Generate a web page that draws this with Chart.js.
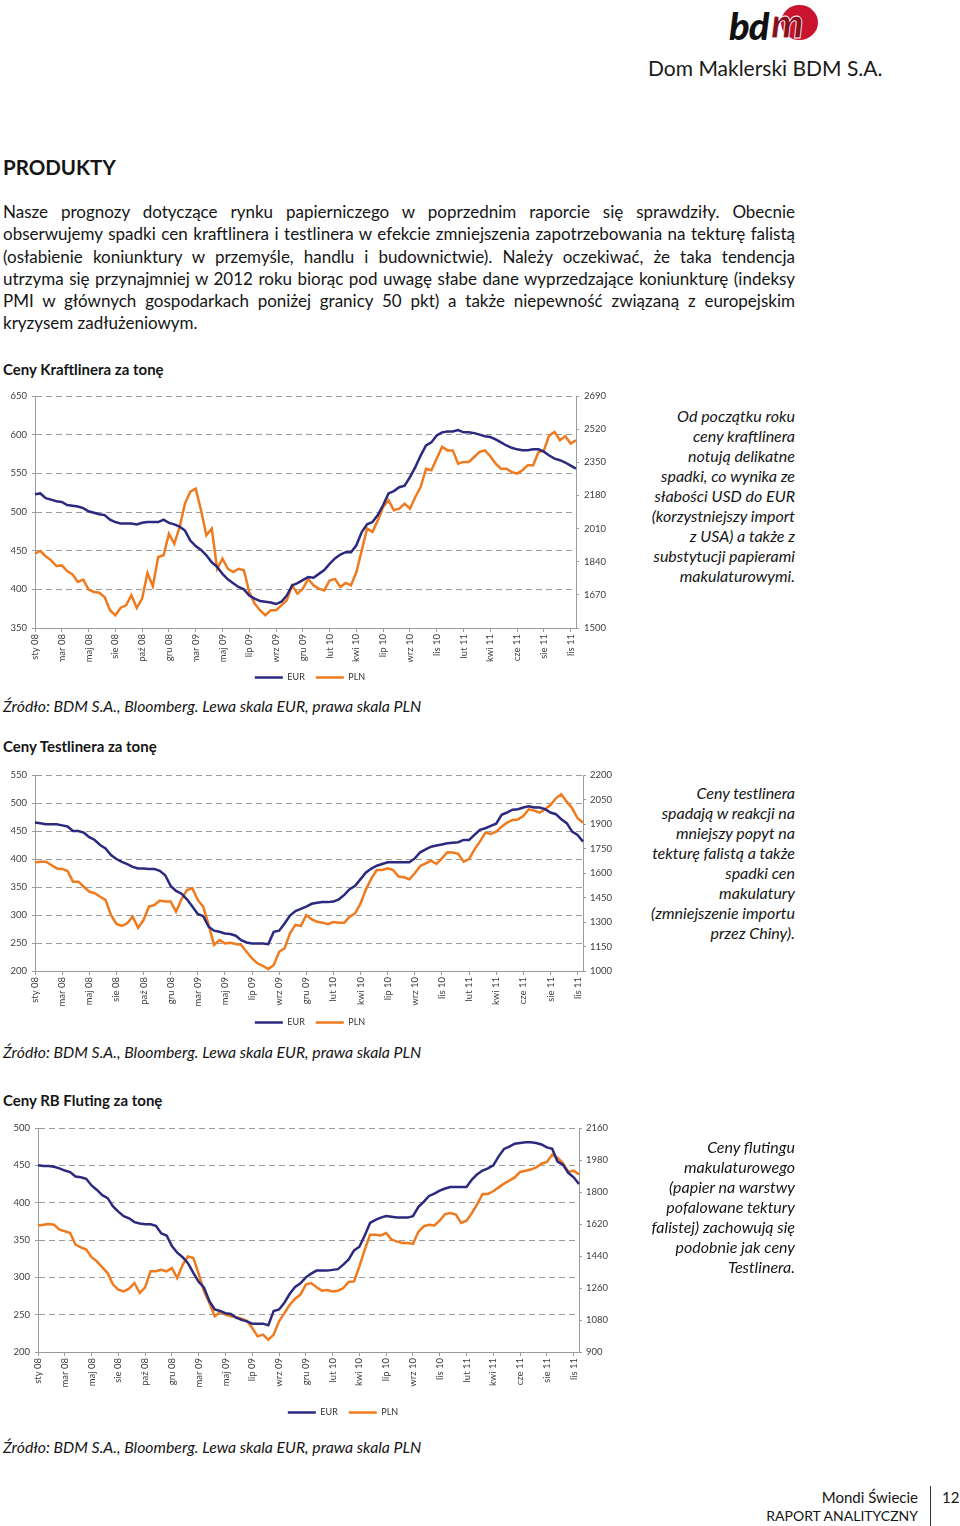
<!DOCTYPE html>
<html lang="pl">
<head>
<meta charset="utf-8">
<title>Mondi Świecie – produkty</title>
<script src="https://cdn.jsdelivr.net/npm/chart.js@4.4.1/dist/chart.umd.min.js"></script>
<style>
  html, body { margin: 0; padding: 0; background: #fff; }
  body { position: relative; width: 960px; height: 1526px; overflow: hidden; font-family: Lato, "Open Sans", sans-serif; color: #151515; }
  .abs { position: absolute; }
  .para { left: 3px; top: 201px; width: 792px; font-size: 17px; line-height: 22.3px; }
  .para div { text-align: justify; text-align-last: justify; }
  .para div.last { text-align-last: left; }
  .title { left: 3px; font-size: 15px; font-weight: bold; line-height: 20px; }
  .source { left: 3px; font-size: 15.8px; font-style: italic; line-height: 20px; }
  .side { right: 165px; text-align: right; font-size: 16px; font-style: italic; line-height: 20px; white-space: nowrap; }
  canvas { position: absolute; left: 0; }
</style>
</head>
<body>

<div class="abs" style="left:781px;top:5px;width:37px;height:35px;border-radius:50%;background:#c8142f"></div>
<div class="abs" style="left:729px;top:2px;font-size:38px;font-weight:900;font-style:italic;letter-spacing:-1px;line-height:46px;color:#111">bd</div>
<div class="abs" style="left:771px;top:0px;font-size:41px;font-weight:900;font-style:italic;line-height:46px;color:#86101d;-webkit-text-stroke:0.8px #fff">m</div>
<div class="abs" style="left:648px;top:56px;font-size:21px;line-height:24px;color:#1a1a1a">Dom Maklerski BDM S.A.</div>

<div class="abs" style="left:3px;top:154px;font-size:20.5px;font-weight:bold;line-height:26px">PRODUKTY</div>

<div class="abs para">
  <div>Nasze prognozy dotyczące rynku papierniczego w poprzednim raporcie się sprawdziły. Obecnie</div>
  <div>obserwujemy spadki cen kraftlinera i testlinera w efekcie zmniejszenia zapotrzebowania na tekturę falistą</div>
  <div>(osłabienie koniunktury w przemyśle, handlu i budownictwie). Należy oczekiwać, że taka tendencja</div>
  <div>utrzyma się przynajmniej w 2012 roku biorąc pod uwagę słabe dane wyprzedzające koniunkturę (indeksy</div>
  <div>PMI w głównych gospodarkach poniżej granicy 50 pkt) a także niepewność związaną z europejskim</div>
  <div class="last">kryzysem zadłużeniowym.</div>
</div>

<div class="abs title" style="top:359px">Ceny Kraftlinera za tonę</div>
<canvas id="kraftChart" width="620" height="308" style="top:384px"></canvas>
<div class="abs side" style="top:406px">Od początku roku<br>ceny kraftlinera<br>notują delikatne<br>spadki, co wynika ze<br>słabości USD do EUR<br>(korzystniejszy import<br>z USA) a także z<br>substytucji papierami<br>makulaturowymi.</div>
<div class="abs source" style="top:696px">Źródło: BDM S.A., Bloomberg. Lewa skala EUR, prawa skala PLN</div>

<div class="abs title" style="top:736px">Ceny Testlinera za tonę</div>
<canvas id="testChart" width="620" height="274" style="top:763px"></canvas>
<div class="abs side" style="top:783px">Ceny testlinera<br>spadają w reakcji na<br>mniejszy popyt na<br>tekturę falistą a także<br>spadki cen<br>makulatury<br>(zmniejszenie importu<br>przez Chiny).</div>
<div class="abs source" style="top:1042px">Źródło: BDM S.A., Bloomberg. Lewa skala EUR, prawa skala PLN</div>

<div class="abs title" style="top:1090px">Ceny RB Fluting za tonę</div>
<canvas id="flutChart" width="686" height="311" style="top:1116px"></canvas>
<div class="abs side" style="top:1137px">Ceny flutingu<br>makulaturowego<br>(papier na warstwy<br>pofalowane tektury<br>falistej) zachowują się<br>podobnie jak ceny<br>Testlinera.</div>
<div class="abs source" style="top:1437px">Źródło: BDM S.A., Bloomberg. Lewa skala EUR, prawa skala PLN</div>

<div class="abs" style="right:42px;top:1487px;font-size:15px;line-height:20px;text-align:right">Mondi Świecie</div>
<div class="abs" style="right:42px;top:1506px;font-size:14px;line-height:20px;text-align:right">RAPORT ANALITYCZNY</div>
<div class="abs" style="left:930px;top:1486px;width:1px;height:40px;background:#333"></div>
<div class="abs" style="left:942px;top:1487px;font-size:15px;line-height:20px">12</div>

<script>
// x axis: one point every ~2 weeks, a label every 5th point
const tickLabels = ['sty 08', 'mar 08', 'maj 08', 'sie 08', 'paź 08', 'gru 08', 'mar 09', 'maj 09', 'lip 09', 'wrz 09',
  'gru 09', 'lut 10', 'kwi 10', 'lip 10', 'wrz 10', 'lis 10', 'lut 11', 'kwi 11', 'cze 11', 'sie 11', 'lis 11'];

// Kraftliner, EUR / PLN per tonne
const kraftEur = [
  523, 524, 518, 516, 514, 513, 509, 508, 507, 505,
  501, 499, 497, 496, 490, 487, 485, 485, 485, 484,
  486, 487, 487, 487, 490, 486, 484, 481, 476, 463,
  456, 451, 444, 435, 429, 420, 413, 408, 403, 400,
  392, 388, 385, 384, 383, 381, 384, 392, 405, 408,
  412, 416, 415, 420, 425, 433, 440, 445, 448, 448,
  457, 474, 484, 487, 496, 509, 524, 527, 532, 534,
  545, 558, 573, 586, 590, 599, 603, 604, 604, 606,
  603, 603, 602, 600, 598, 597, 594, 590, 586, 583,
  581, 580, 580, 581, 581, 578, 573, 569, 567, 564,
  560, 556];
const kraftPln = [
  1881, 1895, 1868, 1847, 1818, 1821, 1792, 1775, 1736, 1748,
  1697, 1685, 1681, 1659, 1591, 1565, 1604, 1616, 1668, 1603,
  1651, 1782, 1714, 1864, 1873, 1984, 1932, 2018, 2138, 2200,
  2215, 2104, 1975, 2010, 1804, 1856, 1804, 1787, 1804, 1796,
  1685, 1625, 1591, 1565, 1591, 1591, 1616, 1642, 1718, 1676,
  1702, 1752, 1719, 1702, 1693, 1744, 1752, 1710, 1731, 1719,
  1787, 1898, 2010, 1993, 2052, 2121, 2155, 2104, 2112, 2138,
  2112, 2172, 2223, 2317, 2309, 2369, 2429, 2411, 2411, 2343,
  2352, 2352, 2377, 2403, 2411, 2381, 2343, 2317, 2317, 2300,
  2292, 2309, 2335, 2335, 2403, 2411, 2488, 2506, 2463, 2483,
  2446, 2463];

// Testliner
const testEur = [
  465, 464, 462, 462, 462, 460, 458, 450, 450, 447,
  439, 434, 425, 419, 407, 400, 395, 391, 386, 383,
  383, 382, 382, 379, 371, 352, 343, 338, 328, 315,
  302, 298, 279, 272, 270, 267, 266, 263, 255, 251,
  249, 249, 249, 248, 270, 272, 285, 299, 307, 311,
  315, 320, 322, 323, 323, 324, 328, 336, 346, 352,
  364, 376, 383, 388, 391, 394, 394, 394, 394, 394,
  401, 412, 417, 422, 424, 426, 428, 429, 430, 434,
  434, 443, 452, 455, 459, 463, 479, 483, 488, 489,
  492, 494, 492, 492, 489, 483, 480, 471, 464, 449,
  443, 431];
const testPln = [
  1665, 1669, 1669, 1649, 1628, 1625, 1612, 1547, 1547, 1516,
  1486, 1476, 1455, 1435, 1343, 1288, 1276, 1292, 1333, 1265,
  1312, 1394, 1404, 1431, 1425, 1425, 1363, 1439, 1496, 1506,
  1435, 1394, 1282, 1160, 1190, 1169, 1173, 1165, 1160, 1118,
  1077, 1047, 1031, 1012, 1037, 1118, 1139, 1231, 1282, 1276,
  1342, 1316, 1302, 1296, 1287, 1300, 1296, 1296, 1332, 1353,
  1414, 1500, 1567, 1618, 1618, 1628, 1618, 1578, 1574, 1561,
  1598, 1643, 1659, 1675, 1655, 1690, 1727, 1725, 1717, 1669,
  1685, 1745, 1792, 1847, 1839, 1853, 1884, 1908, 1924, 1928,
  1949, 1990, 1982, 1969, 1990, 2016, 2057, 2082, 2037, 1996,
  1935, 1908];

// RB Fluting
const flutEur = [
  450, 449, 449, 448, 446, 443, 441, 435, 434, 432,
  423, 417, 410, 406, 395, 388, 382, 379, 374, 372,
  371, 371, 369, 359, 356, 342, 333, 327, 319, 306,
  294, 286, 268, 257, 255, 252, 251, 246, 243, 241,
  238, 238, 238, 236, 255, 257, 266, 278, 287, 292,
  300, 305, 309, 309, 309, 310, 311, 317, 324, 336,
  341, 356, 373, 377, 380, 382, 381, 380, 380, 380,
  382, 394, 401, 409, 412, 416, 419, 421, 421, 421,
  421, 431, 438, 443, 446, 450, 462, 472, 475, 479,
  480, 481, 481, 480, 478, 474, 472, 455, 451, 440,
  434, 425];
const flutPln = [
  1612, 1616, 1620, 1616, 1588, 1579, 1569, 1504, 1489, 1476,
  1433, 1410, 1376, 1344, 1279, 1251, 1241, 1256, 1288, 1232,
  1264, 1354, 1354, 1363, 1354, 1372, 1316, 1391, 1438, 1429,
  1339, 1241, 1176, 1101, 1125, 1110, 1101, 1095, 1087, 1076,
  1035, 988, 998, 969, 998, 1073, 1119, 1166, 1200, 1223,
  1279, 1288, 1264, 1245, 1249, 1241, 1245, 1260, 1294, 1297,
  1382, 1476, 1560, 1560, 1556, 1569, 1532, 1522, 1513, 1513,
  1508, 1575, 1607, 1616, 1612, 1639, 1676, 1682, 1673, 1626,
  1639, 1682, 1732, 1789, 1789, 1804, 1826, 1847, 1864, 1882,
  1913, 1920, 1926, 1939, 1959, 1969, 2010, 1992, 1963, 1913,
  1920, 1898];

const EUR_COLOR = '#2b2a7f';
const PLN_COLOR = '#f07a1e';
const GRID = '#9b9b9b';
const TICK_TEXT = '#3c3c3c';

Chart.defaults.font.family = 'Lato, "Open Sans", sans-serif';

function pointLabels(n) {
  const out = [];
  for (let i = 0; i < n; i++) {
    out.push(i % 5 === 0 && tickLabels[i / 5] ? tickLabels[i / 5] : '');
  }
  return out;
}

function renderChart(canvasId, eur, pln, left, right, box) {
  const ctx = document.getElementById(canvasId).getContext('2d');

  return new Chart(ctx, {
    type: 'line',
    data: {
      labels: pointLabels(eur.length),
      datasets: [{
        label: 'EUR',
        data: eur,
        yAxisID: 'y',
        borderColor: EUR_COLOR,
        backgroundColor: EUR_COLOR,
        borderWidth: 2.5,
        pointRadius: 0,
        tension: 0
      }, {
        label: 'PLN',
        data: pln,
        yAxisID: 'y1',
        borderColor: PLN_COLOR,
        backgroundColor: PLN_COLOR,
        borderWidth: 2.5,
        pointRadius: 0,
        tension: 0
      }]
    },
    options: {
      responsive: false,
      animation: false,
      layout: { padding: { top: 12, left: 0, right: 0, bottom: 0 } },
      plugins: {
        tooltip: { enabled: false },
        legend: {
          position: 'bottom',
          labels: {
            usePointStyle: true,
            pointStyleWidth: 28,
            padding: 11,
            color: '#333',
            font: { size: 9 },
            generateLabels: chart => chart.data.datasets.map((ds, i) => ({
              text: ds.label,
              fillStyle: ds.borderColor,
              strokeStyle: ds.borderColor,
              lineWidth: 2.5,
              pointStyle: 'line',
              fontColor: '#333',
              datasetIndex: i
            }))
          }
        }
      },
      scales: {
        x: {
          type: 'category',
          afterBuildTicks: axis => { axis.ticks = axis.ticks.filter(t => t.value % 5 === 0); },
          afterFit: scale => { scale.height = box.xHeight; },
          grid: { drawOnChartArea: false, color: GRID, tickLength: 4 },
          border: { color: GRID },
          ticks: { autoSkip: false, minRotation: 90, maxRotation: 90, padding: 2, color: TICK_TEXT, font: { size: 9.5 } }
        },
        y: {
          position: 'left',
          min: left.min,
          max: left.max,
          afterFit: scale => { scale.width = box.left; },
          grid: { color: GRID, tickLength: 3 },
          border: { color: GRID, dash: [6, 4] },
          ticks: { stepSize: left.step, padding: 5, color: TICK_TEXT, font: { size: 9.5 }, callback: v => String(v) }
        },
        y1: {
          position: 'right',
          min: right.min,
          max: right.max,
          afterFit: scale => { scale.width = box.right; },
          grid: { drawOnChartArea: false, color: GRID, tickLength: 3 },
          border: { color: GRID },
          ticks: { stepSize: right.step, padding: box.rightPad, color: TICK_TEXT, font: { size: 9.5 }, callback: v => String(v) }
        }
      }
    }
  });
}

document.fonts.ready.then(() => {
  renderChart('kraftChart', kraftEur, kraftPln,
    { min: 350, max: 650, step: 50 }, { min: 1500, max: 2690, step: 170 },
    { left: 35, right: 44, xHeight: 34, rightPad: 5 });
  renderChart('testChart', testEur, testPln,
    { min: 200, max: 550, step: 50 }, { min: 1000, max: 2200, step: 150 },
    { left: 35, right: 37, xHeight: 36, rightPad: 4 });
  renderChart('flutChart', flutEur, flutPln,
    { min: 200, max: 500, step: 50 }, { min: 900, max: 2160, step: 180 },
    { left: 38, right: 107, xHeight: 45, rightPad: 4 });
});
</script>
</body>
</html>
